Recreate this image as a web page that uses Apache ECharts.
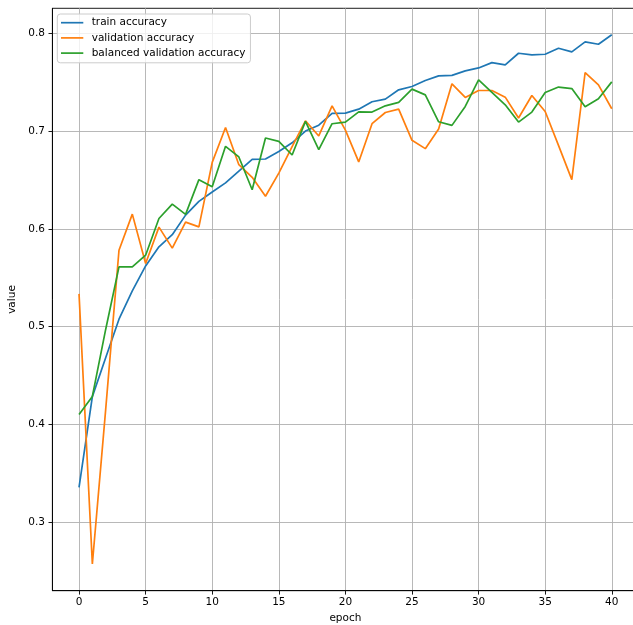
<!DOCTYPE html>
<html>
<head>
<meta charset="utf-8">
<script src="https://cdn.jsdelivr.net/npm/echarts@6/dist/echarts.min.js"></script>
<style>html,body{margin:0;padding:0;background:#fff;}#c{width:633px;height:625px;}</style>
</head>
<body>
<div id="c"></div>
<script>
const epochs = Array.from({length: 41}, (_, i) => i);
const trainAcc = [0.3355,0.4283,0.468,0.5075,0.5364,0.562,0.5816,0.594,0.6140,0.628,0.6376,0.647,0.659,0.671,0.6714,0.679,0.688,0.700,0.706,0.718,0.7184,0.7224,0.730,0.7327,0.7422,0.7456,0.7517,0.7565,0.757,0.7616,0.7646,0.770,0.7677,0.7796,0.7779,0.7786,0.7847,0.781,0.7912,0.7888,0.7986];
const valAcc = [0.5334,0.257,0.415,0.578,0.615,0.5645,0.6017,0.5802,0.6068,0.602,0.668,0.7037,0.6656,0.6527,0.6333,0.657,0.684,0.7105,0.695,0.7258,0.701,0.6684,0.7075,0.719,0.7224,0.6905,0.682,0.702,0.7483,0.7344,0.7415,0.7415,0.7347,0.7133,0.7364,0.72,0.6854,0.6503,0.7599,0.7473,0.7228];
const balValAcc = [0.410,0.4285,0.497,0.561,0.561,0.573,0.6105,0.6253,0.6148,0.6503,0.643,0.6844,0.6735,0.640,0.6929,0.6895,0.6755,0.7099,0.681,0.7075,0.7092,0.7197,0.7194,0.7258,0.7293,0.7429,0.737,0.7095,0.7058,0.7252,0.7524,0.7395,0.7269,0.7092,0.7194,0.7395,0.745,0.7435,0.7248,0.733,0.7503];
const seriesNames = ['train accuracy', 'validation accuracy', 'balanced validation accuracy'];
const xTicks = [0, 5, 10, 15, 20, 25, 30, 35, 40];
const yTicks = [0.3, 0.4, 0.5, 0.6, 0.7, 0.8];

const colors = ['#1f77b4', '#ff7f0e', '#2ca02c'];
const font = 'DejaVu Sans';
const fs = 10.5;
const chart = echarts.init(document.getElementById('c'), null, {renderer: 'canvas'});
const pairs = arr => arr.map((v, i) => [epochs[i], v]);
const mkSeries = (name, arr, c) => ({
  name: name, type: 'line', data: pairs(arr), symbol: 'none', showSymbol: false,
  lineStyle: {color: c, width: 1.7}, itemStyle: {color: c}, z: 3
});
chart.setOption({
  animation: false,
  backgroundColor: '#fff',
  color: colors,
  grid: {left: 52.4, top: 8.3, width: 586, height: 582.4, show: true, borderColor: '#000', borderWidth: 0.9, backgroundColor: 'transparent', outerBoundsMode: 'none', containLabel: false},
  legend: {
    orient: 'vertical', left: 57.3, top: 14,
    backgroundColor: 'rgba(255,255,255,0.8)', borderColor: '#cccccc', borderWidth: 1, borderRadius: 3,
    padding: [2.45, 5, 3.45, 3.7], itemGap: 2.7, itemWidth: 22.3, itemHeight: 1.7, icon: 'rect',
    textStyle: {fontFamily: font, fontSize: fs, color: '#000', lineHeight: 12.5, padding: [0, 0, 0, 3.4]},
    data: seriesNames
  },
  xAxis: {
    type: 'value', min: -2, max: 42,
    name: 'epoch', nameLocation: 'middle', nameGap: 20.5,
    nameTextStyle: {fontFamily: font, fontSize: fs, color: '#000'},
    axisLine: {show: true, onZero: false, lineStyle: {color: '#000', width: 0.9}},
    axisTick: {show: true, inside: false, length: 3.9, lineStyle: {color: '#000', width: 0.9}, customValues: xTicks},
    axisLabel: {customValues: xTicks, margin: 6.5, fontFamily: font, fontSize: fs, color: '#000', formatter: v => String(v)},
    splitLine: {show: true, lineStyle: {color: '#b0b0b0', width: 0.9}}
  },
  yAxis: {
    type: 'value', min: 0.2297, max: 0.8256,
    name: 'value', nameLocation: 'middle', nameGap: 30,
    nameTextStyle: {fontFamily: font, fontSize: fs, color: '#000'},
    axisLine: {show: true, onZero: false, lineStyle: {color: '#000', width: 0.9}},
    axisTick: {show: true, inside: false, length: 3.9, lineStyle: {color: '#000', width: 0.9}, customValues: yTicks},
    axisLabel: {customValues: yTicks, margin: 7.5, fontFamily: font, fontSize: fs, color: '#000', formatter: v => v.toFixed(1)},
    splitLine: {show: true, lineStyle: {color: '#b0b0b0', width: 0.9}}
  },
  series: [
    mkSeries(seriesNames[0], trainAcc, colors[0]),
    mkSeries(seriesNames[1], valAcc, colors[1]),
    mkSeries(seriesNames[2], balValAcc, colors[2])
  ]
});
</script>
</body>
</html>
